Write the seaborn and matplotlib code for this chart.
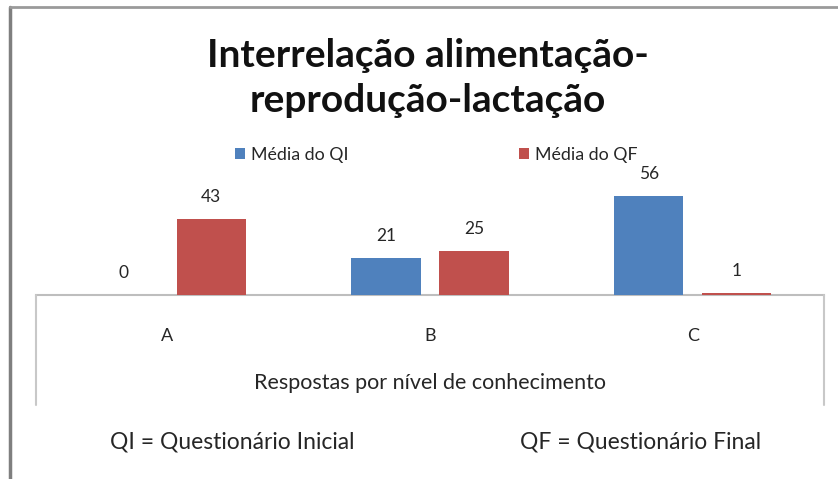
import matplotlib
matplotlib.use("Agg")
import matplotlib.pyplot as plt
from matplotlib.lines import Line2D
import seaborn as sns
import pandas as pd

categories = ["A", "B", "C"]
series_names = ["Média do QI", "Média do QF"]
qi_values = [0, 21, 56]
qf_values = [43, 25, 1]
colors = ["#4F81BD", "#C0504D"]
title = "Interrelação alimentação-\nreprodução-lactação"
xlabel = "Respostas por nível de conhecimento"
note_qi = "QI = Questionário Inicial"
note_qf = "QF = Questionário Final"

df = pd.DataFrame({
    "cat": categories * 2,
    "serie": [series_names[0]] * 3 + [series_names[1]] * 3,
    "val": qi_values + qf_values,
})

sns.set_theme(style="white")
plt.rcParams["font.family"] = ["Lato", "DejaVu Sans"]
TXT = "#262626"

W, H = 838, 479
fig = plt.figure(figsize=(W / 100, H / 100), dpi=100)
fig.patch.set_facecolor("white")

def fx(px):
    return px / W

def fy(py):
    return 1 - py / H

ax_left, ax_right = 36, 824
base_y, top_y = 295, 171
ax = fig.add_axes([fx(ax_left), fy(base_y), fx(ax_right - ax_left), (base_y - top_y) / H])

sns.barplot(data=df, x="cat", y="val", hue="serie", palette=colors, width=0.67,
            gap=0.215, saturation=1, linewidth=0, ax=ax, legend=True)

scale = 1.768  # px per unit
ax.set_ylim(0, (base_y - top_y) / scale)
ax.set_xlim(-0.5, 2.5)

for c in ax.containers:
    for p in c.patches:
        p.set_zorder(3)
        p.set_linewidth(0)
    ax.bar_label(c, labels=[f"{v:g}" for v in c.datavalues], padding=10,
                 fontsize=12.5, color=TXT)

for s in ["top", "left", "right"]:
    ax.spines[s].set_visible(False)
ax.spines["bottom"].set_color("#BEBEBE")
ax.spines["bottom"].set_linewidth(1.5)
ax.spines["bottom"].set_zorder(1)
ax.set_yticks([])
ax.set_ylabel("")
ax.tick_params(axis="x", length=0, pad=24, labelsize=13, labelcolor=TXT)
ax.set_xlabel(xlabel, fontsize=15.5, color=TXT)
ax.xaxis.set_label_coords(0.5, -(383 - base_y) / (base_y - top_y), transform=ax.transAxes)
ax.xaxis.label.set_verticalalignment("center")

handles, labels = ax.get_legend_handles_labels()
ax.legend(handles, labels, loc="center", bbox_to_anchor=(fx(436), fy(155)),
          bbox_transform=fig.transFigure, ncol=2, frameon=False, fontsize=12.8,
          handlelength=0.6, handleheight=0.6, handletextpad=0.3,
          columnspacing=9.6, labelcolor=TXT)

# box lines below the axis
for x in (ax_left, ax_right):
    fig.add_artist(Line2D([fx(x), fx(x)], [fy(base_y), fy(405)], color="#C8C8C8",
                          lw=1.5, transform=fig.transFigure))

# outer chart border
fig.add_artist(Line2D([fx(10), fx(10)], [fy(7), 0], color="#7F7F7F", lw=2.5,
                      transform=fig.transFigure))
fig.add_artist(Line2D([fx(10), 1], [fy(7), fy(7)], color="#9A9A9A", lw=2.0,
                      transform=fig.transFigure))

fig.text(fx(428), fy(78), title, ha="center", va="center", fontsize=28,
         fontweight="bold", color="#111111", linespacing=1.32)

fig.text(fx(232), fy(442), note_qi, ha="center", va="center", fontsize=16.5, color=TXT)
fig.text(fx(641), fy(442), note_qf, ha="center", va="center", fontsize=16.5, color=TXT)

fig.savefig("out.png", dpi=100, facecolor="white")
